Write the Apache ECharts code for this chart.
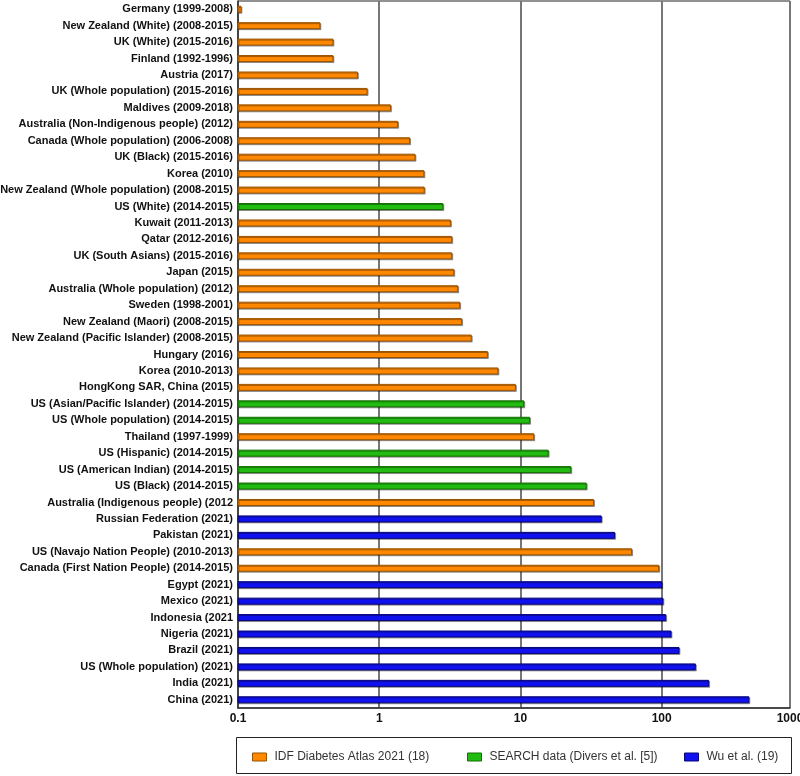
<!DOCTYPE html>
<html>
<head>
<meta charset="utf-8">
<style>html,body{margin:0;padding:0;background:#fff;}#c{width:800px;height:776px;}</style>
<script src="https://cdn.jsdelivr.net/npm/echarts@6/dist/echarts.min.js"></script>
</head>
<body>
<div id="c"></div>
<script>
const categories = [
  'Germany (1999-2008)', 'New Zealand (White) (2008-2015)', 'UK (White) (2015-2016)', 'Finland (1992-1996)',
  'Austria (2017)', 'UK (Whole population) (2015-2016)', 'Maldives (2009-2018)', 'Australia (Non-Indigenous people) (2012)',
  'Canada (Whole population) (2006-2008)', 'UK (Black) (2015-2016)', 'Korea (2010)', 'New Zealand (Whole population) (2008-2015)',
  'US (White) (2014-2015)', 'Kuwait (2011-2013)', 'Qatar (2012-2016)', 'UK (South Asians) (2015-2016)',
  'Japan (2015)', 'Australia (Whole population) (2012)', 'Sweden (1998-2001)', 'New Zealand (Maori) (2008-2015)',
  'New Zealand (Pacific Islander) (2008-2015)', 'Hungary (2016)', 'Korea (2010-2013)', 'HongKong SAR, China (2015)',
  'US (Asian/Pacific Islander) (2014-2015)', 'US (Whole population) (2014-2015)', 'Thailand (1997-1999)', 'US (Hispanic) (2014-2015)',
  'US (American Indian) (2014-2015)', 'US (Black) (2014-2015)', 'Australia (Indigenous people) (2012', 'Russian Federation (2021)',
  'Pakistan (2021)', 'US (Navajo Nation People) (2010-2013)', 'Canada (First Nation People) (2014-2015)', 'Egypt (2021)',
  'Mexico (2021)', 'Indonesia (2021', 'Nigeria (2021)', 'Brazil (2021)',
  'US (Whole population) (2021)', 'India (2021)', 'China (2021)'
];
const values = [
  0.105, 0.38, 0.47, 0.47,
  0.70, 0.82, 1.20, 1.35,
  1.64, 1.79, 2.07, 2.08,
  2.82, 3.19, 3.26, 3.26,
  3.37, 3.59, 3.71, 3.83,
  4.48, 5.83, 6.92, 9.2,
  10.55, 11.6, 12.4, 15.7,
  22.7, 29.2, 32.9, 37.3,
  46.4, 61.2, 95.2, 100,
  102, 106.7, 116.4, 132.6,
  173, 215, 414
];
const sources = [
  'I','I','I','I','I','I','I','I','I','I','I','I',
  'S','I','I','I','I','I','I','I','I','I','I','I',
  'S','S','I','S','S','S','I','W','W','I','I','W',
  'W','W','W','W','W','W','W'
];
const sourceNames = { I: 'IDF Diabetes Atlas 2021 (18)', S: 'SEARCH data (Divers et al. [5])', W: 'Wu et al. (19)' };
const sourceColors = { I: '#FF8800', S: '#22BB11', W: '#1111F0' };
const sourceBorders = { I: '#9a5200', S: '#137000', W: '#06067a' };
const xTicks = ['0.1', '1', '10', '100', '1000'];
const axisMin = 0.1;
const FONT = "'Liberation Sans', Arial, Helvetica, sans-serif";

const chart = echarts.init(document.getElementById('c'), null, { renderer: 'canvas' });

const series = ['I', 'S', 'W'].map(k => ({
  name: sourceNames[k],
  type: 'custom',
  data: values.map((v, i) => [v, i]).filter((d, i) => sources[i] === k),
  encode: { x: 0, y: 1 },
  itemStyle: { color: sourceColors[k], borderColor: sourceBorders[k] },
  renderItem: function (params, api) {
    const start = api.coord([axisMin, api.value(1)]);
    const end = api.coord([api.value(0), api.value(1)]);
    const h = 6;
    return {
      type: 'rect',
      shape: { x: start[0], y: end[1] - h / 2, width: end[0] - start[0], height: h },
      style: {
        fill: sourceColors[k],
        stroke: sourceBorders[k],
        lineWidth: 1,
        shadowColor: 'rgba(0,0,0,0.35)',
        shadowOffsetX: 1,
        shadowOffsetY: 1,
        shadowBlur: 0
      }
    };
  },
  emphasis: { disabled: true },
  animation: false
}));

const legendItem = (k, left) => ({
  data: [sourceNames[k]],
  left: left,
  top: 751,
  itemWidth: 14,
  itemHeight: 8,
  padding: 0,
  icon: 'rect',
  itemStyle: { color: sourceColors[k], borderColor: sourceBorders[k], borderWidth: 1 },
  textStyle: { fontFamily: FONT, fontSize: 12, fontWeight: 'normal', color: '#333', padding: [0, 0, 0, 3] }
});

chart.setOption({
  animation: false,
  grid: {
    left: 238, right: 10, top: 1, bottom: 68,
    outerBoundsMode: 'none',
    show: true, borderColor: '#222', borderWidth: 1, containLabel: false
  },
  xAxis: {
    type: 'log',
    logBase: 10,
    min: axisMin,
    max: 810,
    axisLine: { show: true, lineStyle: { color: '#333', width: 1.5 } },
    axisTick: { show: false },
    splitLine: { show: true, lineStyle: { color: '#777', width: 2 } },
    axisLabel: {
      margin: 5,
      hideOverlap: false,
      fontFamily: FONT,
      fontSize: 12, fontWeight: 'bold', color: '#111',
      formatter: function (v) {
        const e = Math.round(Math.log10(v));
        const idx = Math.abs(Math.log10(v) - e) < 1e-6 ? e + 1 : xTicks.length - 1;
        return xTicks[Math.min(idx, xTicks.length - 1)];
      }
    }
  },
  yAxis: {
    type: 'category',
    data: categories,
    inverse: true,
    axisLine: { show: true, lineStyle: { color: '#333', width: 1.5 } },
    axisTick: { show: false },
    splitLine: { show: false },
    axisLabel: {
      interval: 0,
      margin: 5,
      fontFamily: FONT,
      fontSize: 11, fontWeight: 'bold', color: '#111'
    }
  },
  legend: [legendItem('I', 252), legendItem('S', 467), legendItem('W', 684)],
  graphic: [{
    type: 'rect',
    shape: { x: 236.5, y: 737.5, width: 555, height: 36 },
    style: { fill: 'none', stroke: '#222', lineWidth: 1 },
    silent: true
  }],
  series: series
});
</script>
</body>
</html>
